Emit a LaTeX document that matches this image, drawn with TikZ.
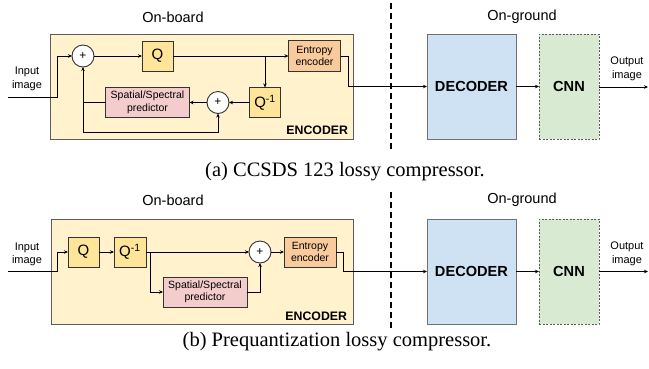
\documentclass[tikz,border=0pt]{standalone}
\usepackage{fontspec}
\setmainfont{Liberation Serif}
\setsansfont{Liberation Sans}
\usetikzlibrary{arrows.meta,calc}
\definecolor{encfill}{HTML}{FFF2CC}
\definecolor{qfill}{HTML}{FFE599}
\definecolor{eefill}{HTML}{F9CB9C}
\definecolor{prfill}{HTML}{F4CCCC}
\definecolor{decfill}{HTML}{CFE2F3}
\definecolor{cnnfill}{HTML}{D9EAD3}
\definecolor{bord}{HTML}{333333}
\begin{document}
\begin{tikzpicture}[x=1pt,y=-1pt,
  every node/.style={inner sep=0pt,outer sep=0pt,text=black,font=\sffamily},
  encbox/.style={draw=bord!80,line width=0.9pt,fill=encfill,minimum width=303pt,minimum height=105pt},
  qbox/.style={draw=bord,line width=0.9pt,fill=qfill,minimum width=31pt,minimum height=30pt,font=\sffamily\fontsize{15}{15}\selectfont},
  eebox/.style={draw=bord,line width=0.9pt,fill=eefill,minimum width=52pt,minimum height=31pt,align=center,font=\sffamily\fontsize{10.5}{12.5}\selectfont},
  prbox/.style={draw=bord,line width=0.9pt,fill=prfill,minimum width=84pt,minimum height=30pt,align=center,font=\sffamily\fontsize{10.5}{12.5}\selectfont},
  sumnode/.style={circle,draw=bord,line width=0.9pt,fill=white,minimum size=22pt,font=\sffamily\fontsize{12}{12}\selectfont},
  decbox/.style={draw=bord!70,line width=0.9pt,fill=decfill,minimum width=89pt,minimum height=105pt,font=\sffamily\bfseries\fontsize{14.6}{15}\selectfont},
  cnnbox/.style={draw=bord!80,dashed,dash pattern=on 2pt off 1.5pt,line width=0.9pt,fill=cnnfill,minimum width=60pt,minimum height=105pt,font=\sffamily\bfseries\fontsize{14.6}{15}\selectfont},
  lbl/.style={font=\sffamily\fontsize{11}{13.5}\selectfont,align=center},
  sidelbl/.style={font=\sffamily\fontsize{14.5}{15}\selectfont},
  enclbl/.style={anchor=east,font=\sffamily\bfseries\fontsize{12.3}{13}\selectfont},
  captxt/.style={font=\rmfamily\fontsize{20.5}{22}\selectfont},
  wire/.style={draw=black,line width=0.9pt},
  arr/.style={wire,-{Stealth[length=4pt,width=3.5pt]}},
  sep/.style={draw=black,line width=1.2pt,dash pattern=on 6pt off 4pt}
]
\useasboundingbox (0,0) rectangle (649,368);

% ---------------- (a) ----------------
\node[sidelbl] (ob1) at (173,17) {On-board};
\node[sidelbl] (og1) at (522,17) {On-ground};
\node[encbox] (enc1) at (202.3,86.5) {};
\node[enclbl] (encl1) at (348,130) {ENCODER};
\node[sumnode] (s1) at (83,56) {+};
\node[qbox] (q1) at (157.5,56) {Q};
\node[eebox] (ee1) at (314.5,56) {Entropy\\encoder};
\node[qbox] (qi1) at (265,102.5) {Q\textsuperscript{-1}};
\node[sumnode] (s2) at (218,102.5) {+};
\node[prbox] (pr1) at (147.5,102.5) {Spatial/Spectral\\predictor};
\node[decbox] (dec1) at (471.5,86.5) {DECODER};
\node[cnnbox] (cnn1) at (569,86.5) {CNN};
\node[lbl] (in1l) at (27,79) {Input\\image};
\node[lbl] (out1l) at (627,69) {Output\\image};
\node[captxt] (cap1) at (345,172) {(a) CCSDS 123 lossy compressor.};
\coordinate (in1) at (8,97);
\coordinate (out1) at (648,87);
\coordinate (fb1) at (83,132);
\coordinate (br1) at (265,56);
\coordinate (ex1) at (348,56);

\draw[arr] (in1) -- (57,97) -- (57,56) -- (s1.west);
\draw[arr] (s1) -- (q1);
\draw[arr] (q1) -- (ee1);
\draw[arr] (br1) -- (qi1.north);
\draw[arr] (qi1) -- (s2);
\draw[arr] (s2) -- (pr1);
\draw[wire] (pr1.west) -- (pr1.west -| s1);
\draw[arr] (fb1) -- (s1.south);
\draw[arr] (fb1) -| (s2.south);
\draw[arr] (ee1.east) -- (ex1) -- (ex1 |- dec1.west) -- (dec1.west);
\draw[arr] (dec1) -- (cnn1);
\draw[arr] (cnn1.east |- out1) -- (out1);
\coordinate (d1a) at (391,3);
\coordinate (d1b) at (391,150);
\draw[sep] (d1a) -- (d1b);

% ---------------- (b) ----------------
\node[sidelbl] (ob2) at (173,200) {On-board};
\node[sidelbl] (og2) at (522,200) {On-ground};
\node[encbox,minimum width=302pt] (enc2) at (202,271.5) {};
\node[enclbl] (encl2) at (347,316) {ENCODER};
\node[qbox] (q2) at (83.5,252) {Q};
\node[qbox,minimum width=32pt] (qi2) at (130,252) {Q\textsuperscript{-1}};
\node[sumnode] (s3) at (260,252) {+};
\node[eebox,minimum height=30pt] (ee2) at (310,252) {Entropy\\encoder};
\node[prbox] (pr2) at (205,292) {Spatial/Spectral\\predictor};
\node[decbox] (dec2) at (471.5,271.5) {DECODER};
\node[cnnbox] (cnn2) at (569,271.5) {CNN};
\node[lbl] (in2l) at (27,254.5) {Input\\image};
\node[lbl] (out2l) at (627,254) {Output\\image};
\node[captxt] (cap2) at (337,342) {(b) Prequantization lossy compressor.};
\coordinate (in2) at (8,271.5);
\coordinate (out2) at (648,271.5);
\coordinate (br2) at (150,252);
\coordinate (ex2) at (343,252);

\draw[arr] (in2) -- (57,271.5) -- (57,252) -- (q2.west);
\draw[arr] (q2) -- (qi2);
\draw[arr] (qi2) -- (s3);
\draw[arr] (br2) |- (pr2.west);
\draw[arr] (pr2.east) -| (s3.south);
\draw[arr] (s3) -- (ee2);
\draw[arr] (ee2.east) -- (ex2) -- (ex2 |- dec2.west) -- (dec2.west);
\draw[arr] (dec2) -- (cnn2);
\draw[arr] (cnn2.east |- out2) -- (out2);
\coordinate (d2a) at (391,192);
\coordinate (d2b) at (391,328);
\draw[sep] (d2a) -- (d2b);
\end{tikzpicture}
\end{document}
